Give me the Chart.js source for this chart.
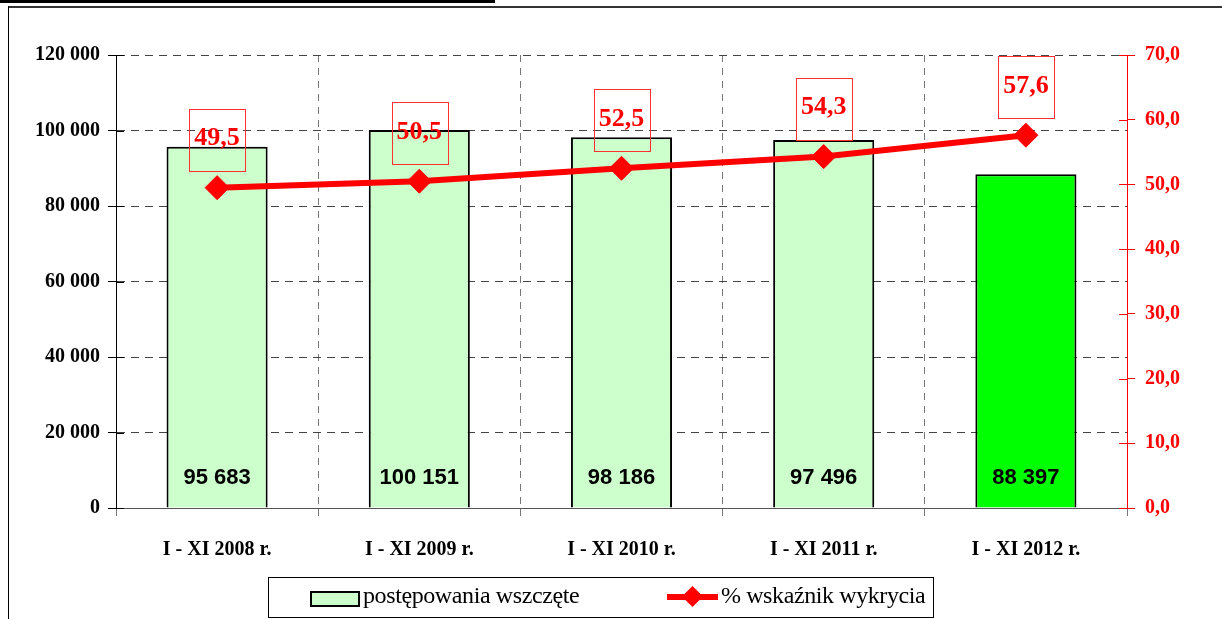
<!DOCTYPE html>
<html>
<head>
<meta charset="utf-8">
<script src="https://cdn.jsdelivr.net/npm/chart.js@4.4.1/dist/chart.umd.min.js"></script>
<style>
  html, body { margin: 0; padding: 0; background: #fff; }
  #wrap { position: relative; width: 1222px; height: 619px; overflow: hidden; }
  #chart { position: absolute; left: 0; top: 0; }
  .underline { position: absolute; left: 0; top: 0; width: 495px; height: 3px; background: #000; }
  .frameTop { position: absolute; left: 8px; top: 6px; right: 0; height: 2px; background: #333; }
  .frameLeft { position: absolute; left: 8px; top: 6px; bottom: 0; width: 1px; background: #000; }
  #legend {
    position: absolute; left: 268px; top: 577px; width: 666px; height: 41px;
    border: 1px solid #000; box-sizing: border-box;
    font-family: "Liberation Serif", serif; font-size: 24px; letter-spacing: -0.4px;
  }
  .swatch { position: absolute; left: 41px; top: 13px; width: 46px; height: 12px; background: #ccffcc; border: 2px solid #000; }
  .lbl1 { position: absolute; left: 94px; top: 4px; }
  .lineIcon { position: absolute; left: 398px; top: 16px; width: 51px; height: 6px; background: #f00; }
  .diamond { position: absolute; left: 416px; top: 11px; width: 15px; height: 15px; background: #f00; transform: rotate(45deg); }
  .lbl2 { position: absolute; left: 452px; top: 4px; }
</style>
</head>
<body>
<div id="wrap">
  <canvas id="chart" width="1222" height="619"></canvas>
  <div class="underline"></div>
  <div class="frameTop"></div>
  <div class="frameLeft"></div>
  <div id="legend">
    <div class="swatch"></div><span class="lbl1">postępowania wszczęte</span>
    <div class="lineIcon"></div><div class="diamond"></div><span class="lbl2">% wskaźnik wykrycia</span>
  </div>
</div>
<script>
const categories = ['I - XI 2008 r.', 'I - XI 2009 r.', 'I - XI 2010 r.', 'I - XI 2011 r.', 'I - XI 2012 r.'];
const casesStarted = [95683, 100151, 98186, 97496, 88397];
const detectionRate = [49.5, 50.5, 52.5, 54.3, 57.6];
const barColors = ['#ccffcc', '#ccffcc', '#ccffcc', '#ccffcc', '#00ff00'];

function thousands(v) {
  return String(v).replace(/\B(?=(\d{3})+(?!\d))/g, ' ');
}
function comma(v) {
  return v.toFixed(1).replace('.', ',');
}

// inner half of the cross-shaped tick marks plus value labels
const labelsPlugin = {
  id: 'labels',
  afterDatasetsDraw(chart) {
    const ctx = chart.ctx;
    const area = chart.chartArea;
    const y = chart.scales.y;
    const y1 = chart.scales.y1;

    ctx.save();
    ctx.lineWidth = 1;
    ctx.strokeStyle = '#000';
    y.ticks.forEach(t => {
      const py = Math.round(y.getPixelForValue(t.value)) + 0.5;
      ctx.beginPath();
      ctx.moveTo(area.left, py);
      ctx.lineTo(area.left + 8, py);
      ctx.stroke();
    });
    ctx.strokeStyle = '#f00';
    y1.ticks.forEach(t => {
      const py = Math.round(y1.getPixelForValue(t.value)) + 0.5;
      ctx.beginPath();
      ctx.moveTo(area.right - 8, py);
      ctx.lineTo(area.right, py);
      ctx.stroke();
    });

    // bar values
    const barMeta = chart.getDatasetMeta(0);
    ctx.font = 'bold 22px "Liberation Sans", Arial, sans-serif';
    ctx.fillStyle = '#000';
    ctx.textAlign = 'center';
    ctx.textBaseline = 'middle';
    barMeta.data.forEach((bar, i) => {
      ctx.fillText(thousands(casesStarted[i]), bar.x, y.getPixelForValue(0) - 30);
    });

    // percentage values in boxes
    const lineMeta = chart.getDatasetMeta(1);
    ctx.font = 'bold 26px "Liberation Serif", "Times New Roman", serif';
    lineMeta.data.forEach((pt, i) => {
      const txt = comma(detectionRate[i]);
      const w = ctx.measureText(txt).width + 10;
      const bottom = pt.y - 17;
      const top = bottom - 62;
      ctx.strokeStyle = '#ff3030';
      ctx.lineWidth = 1;
      ctx.strokeRect(Math.round(pt.x - w / 2) + 0.5, Math.round(top) + 0.5, Math.round(w), 62);
      ctx.fillStyle = '#f00';
      ctx.fillText(txt, pt.x, (top + bottom) / 2 - 1);
    });
    ctx.restore();
  }
};

const ctx = document.getElementById('chart').getContext('2d');
new Chart(ctx, {
  type: 'bar',
  data: {
    labels: categories,
    datasets: [{
      type: 'bar',
      label: 'postępowania wszczęte',
      data: casesStarted,
      backgroundColor: barColors,
      borderColor: '#000',
      borderWidth: 2,
      categoryPercentage: 1,
      barPercentage: 0.5,
      yAxisID: 'y',
      order: 1
    }, {
      type: 'line',
      label: '% wskaźnik wykrycia',
      data: detectionRate,
      borderColor: '#f00',
      backgroundColor: '#f00',
      borderWidth: 6,
      pointStyle: 'rectRot',
      pointRadius: 12,
      pointBorderWidth: 1,
      pointBackgroundColor: '#f00',
      tension: 0,
      yAxisID: 'y1',
      order: 0
    }]
  },
  options: {
    responsive: false,
    animation: false,
    layout: { padding: { left: 8, right: 0, top: 55, bottom: 0 } },
    plugins: {
      legend: { display: false },
      tooltip: { enabled: false }
    },
    scales: {
      x: {
        offset: true,
        grid: {
          offset: true,
          color: '#777',
          tickLength: 8,
          tickColor: '#777',
          tickBorderDash: []
        },
        border: { color: '#555', width: 1, dash: [7, 6] },
        ticks: {
          color: '#000',
          padding: 22,
          font: { family: '"Liberation Serif", serif', size: 20, weight: 'bold' }
        },
        afterFit(scale) { scale.height = 111; }
      },
      y: {
        position: 'left',
        min: 0,
        max: 120000,
        ticks: {
          stepSize: 20000,
          color: '#000',
          padding: 8,
          font: { family: '"Liberation Serif", serif', size: 20, weight: 'bold' },
          callback: v => thousands(v)
        },
        grid: {
          color: '#444',
          tickLength: 8,
          tickColor: '#000',
          tickBorderDash: []
        },
        border: { color: '#000', width: 1, dash: [8, 6] },
        afterFit(scale) { scale.width = 108; }
      },
      y1: {
        position: 'right',
        min: 0,
        max: 70,
        ticks: {
          stepSize: 10,
          color: '#f00',
          padding: 10,
          font: { family: '"Liberation Serif", serif', size: 20, weight: 'bold' },
          callback: v => comma(v)
        },
        grid: {
          drawOnChartArea: false,
          tickLength: 8,
          tickColor: '#f00'
        },
        border: { color: '#f00', width: 1 },
        afterFit(scale) { scale.width = 95; }
      }
    }
  },
  plugins: [labelsPlugin]
});
</script>
</body>
</html>
